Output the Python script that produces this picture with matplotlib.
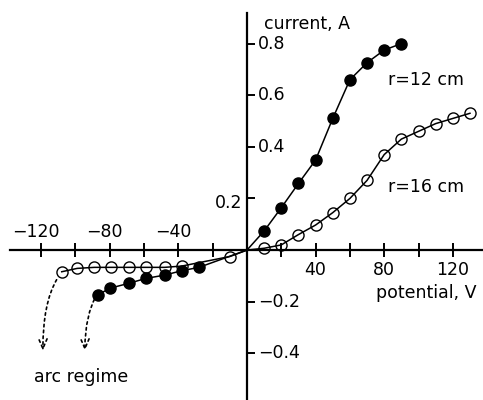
import numpy as np
import matplotlib
matplotlib.use("Agg")
import matplotlib.pyplot as plt

plt.rcParams["font.family"] = ["DejaVu Sans"]

# r = 12 cm (filled); 0 V point is where the line crosses
v12 = [-87, -80, -69, -59, -48, -38, -28, 0, 10, 20, 30, 40, 50, 60, 70, 80, 90]
i12 = [-0.174, -0.148, -0.129, -0.110, -0.097, -0.080, -0.067, 0.0,
       0.074, 0.164, 0.258, 0.349, 0.51, 0.66, 0.726, 0.775, 0.80]
mark12 = [k for k, v in enumerate(v12) if v != 0]

# r = 16 cm (open)
v16 = [-108, -99, -89, -79, -69, -59, -48, -38, -10, 0,
       10, 20, 30, 40, 50, 60, 70, 80, 90, 100, 110, 120, 130]
i16 = [-0.084, -0.071, -0.067, -0.067, -0.067, -0.067, -0.067, -0.062, -0.025, 0.0,
       0.007, 0.020, 0.060, 0.097, 0.145, 0.200, 0.270, 0.370, 0.430, 0.460,
       0.490, 0.510, 0.530]
mark16 = [k for k, v in enumerate(v16) if v != 0]

xticks = np.arange(-120, 121, 20)
xlabels = {-120: "\u2212120", -80: "\u221280", -40: "\u221240",
           40: "40", 80: "80", 120: "120"}
yticks = [-0.4, -0.2, 0.2, 0.4, 0.6, 0.8]
ylabels = ["\u22120.4", "\u22120.2", "0.2", "0.4", "0.6", "0.8"]

fig = plt.figure(figsize=(4.83, 4.00), dpi=100)
ax = fig.add_axes([0, 0, 1, 1])
ax.set_xlim(-144, 137.6)
ax.set_ylim(-0.581, 0.969)

for s in ("top", "right"):
    ax.spines[s].set_visible(False)
for s in ("left", "bottom"):
    ax.spines[s].set_position(("data", 0))
    ax.spines[s].set_linewidth(1.6)
ax.spines["bottom"].set_bounds(-138, 137.6)
ax.spines["left"].set_bounds(-0.58, 0.92)

ax.set_xticks(xticks)
ax.set_yticks(yticks)
ax.set_xticklabels([])
ax.set_yticklabels([])
ax.tick_params(axis="x", direction="inout", length=10, width=1.4)
ax.tick_params(axis="y", direction="in", length=6, width=1.4)

fs = 12.5
for v, lab in xlabels.items():
    if v < 0:
        ax.annotate(lab, xy=(v, 0), xytext=(-4, 13), textcoords="offset points",
                    ha="center", va="center", fontsize=fs)
    else:
        ax.annotate(lab, xy=(v, 0), xytext=(0, -14), textcoords="offset points",
                    ha="center", va="center", fontsize=fs)
for y, lab in zip(yticks, ylabels):
    if y == 0.2:
        ax.annotate(lab, xy=(0, y), xytext=(-3, -3), textcoords="offset points",
                    ha="right", va="center", fontsize=fs)
    else:
        ax.annotate(lab, xy=(0, y), xytext=(8, 0), textcoords="offset points",
                    ha="left", va="center", fontsize=fs)

ax.plot(v12, i12, "-", color="black", lw=1.1, marker="o", ms=8,
        mfc="black", mec="black", markevery=mark12)
ax.plot(v16, i16, "-", color="black", lw=1.1, marker="o", ms=8,
        mfc="none", mec="black", mew=1.0, markevery=mark16)

# dotted arrows toward the arc regime
arrow = dict(arrowstyle="->,head_length=0.7,head_width=0.3", color="black",
             lw=1.2, ls=(0, (1.5, 2)), shrinkA=0, shrinkB=0,
             connectionstyle="angle3,angleA=60,angleB=90")
ax.annotate("", xy=(-119, -0.39), xytext=(-111, -0.115), arrowprops=arrow)
ax.annotate("", xy=(-94.5, -0.39), xytext=(-87.5, -0.172), arrowprops=arrow)

ax.text(10, 0.875, "current, A", fontsize=fs, ha="left", va="center")
ax.text(134, -0.168, "potential, V", fontsize=fs, ha="right", va="center")
ax.text(82, 0.66, "r=12 cm", fontsize=fs, ha="left", va="center")
ax.text(82, 0.245, "r=16 cm", fontsize=fs, ha="left", va="center")
ax.text(-124, -0.49, "arc regime", fontsize=fs, ha="left", va="center")

fig.savefig("out.png", dpi=100)
